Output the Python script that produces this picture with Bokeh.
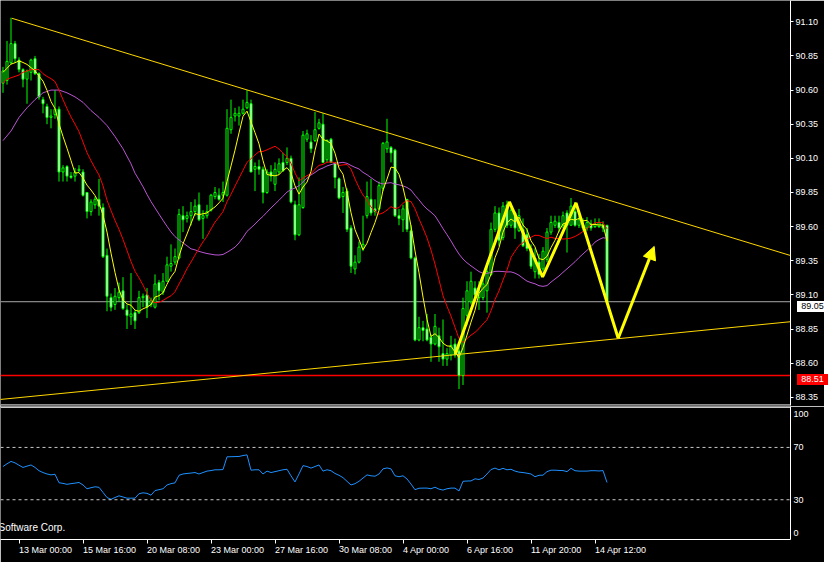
import pandas as pd
from bokeh.plotting import figure
from bokeh.layouts import column
from bokeh.models import (ColumnDataSource, FixedTicker, PrintfTickFormatter, Span, Label,
                          Arrow, NormalHead, Range1d, Div)
from bokeh.embed import file_html
from bokeh.resources import INLINE

# ---------------- data (H4 bars) ----------------
opens = [
    90.65, 90.67, 90.80, 90.94, 90.82, 90.75, 90.68, 90.73, 90.83, 90.72,
    90.53, 90.48, 90.40, 90.42, 90.46, 90.00, 90.04, 89.97, 89.97, 90.01,
    90.00, 89.85, 89.71, 89.76, 89.80, 89.74, 89.39, 89.08, 89.03, 89.08,
    89.13, 88.99, 88.94, 88.97, 88.97, 89.08, 89.10, 89.03, 89.01, 89.19,
    89.12, 89.20, 89.31, 89.34, 89.37, 89.68, 89.66, 89.68, 89.71, 89.76,
    89.66, 89.68, 89.72, 89.82, 89.83, 89.83, 89.83, 90.31, 90.41, 90.41,
    90.43, 90.47, 90.50, 90.02, 90.04, 90.02, 89.85, 90.00, 89.91, 90.00,
    90.07, 90.07, 90.10, 89.76, 89.54, 89.74, 90.24, 90.22, 90.23, 90.32,
    90.35, 90.09, 90.24, 90.07, 89.95, 89.82, 89.86, 89.59, 89.29, 89.34,
    89.44, 89.68, 89.80, 89.73, 89.73, 89.88, 90.17, 90.18, 90.16, 89.68,
    89.65, 89.80, 89.57, 89.37, 88.77, 88.86, 88.85, 88.79, 88.74, 88.80,
    88.67, 88.63, 88.66, 88.74, 88.69, 88.51, 88.95, 89.05, 89.15, 89.08,
    89.08, 89.13, 89.25, 89.58, 89.70, 89.52, 89.76, 89.61, 89.70, 89.57,
    89.58, 89.54, 89.44, 89.27, 89.34, 89.29, 89.36, 89.56, 89.61, 89.63,
    89.61, 89.70, 89.61, 89.71, 89.61, 89.61, 89.59, 89.62, 89.60, 89.60,
    89.61, 89.61]
highs = [
    90.77, 90.96, 91.13, 90.96, 90.84, 90.76, 90.75, 90.83, 90.85, 90.73,
    90.55, 90.50, 90.46, 90.60, 90.48, 90.05, 90.05, 90.00, 90.03, 90.05,
    90.02, 89.85, 89.80, 89.82, 89.95, 89.77, 89.44, 89.11, 89.15, 89.19,
    89.23, 89.03, 89.26, 88.99, 89.13, 89.11, 89.15, 89.08, 89.25, 89.21,
    89.26, 89.38, 89.47, 89.44, 89.73, 89.75, 89.71, 89.78, 89.80, 89.85,
    89.72, 89.76, 89.84, 89.89, 89.88, 89.93, 90.46, 90.53, 90.47, 90.48,
    90.53, 90.60, 90.53, 90.07, 90.09, 90.04, 90.02, 90.05, 90.07, 90.10,
    90.14, 90.18, 90.12, 89.79, 89.96, 90.30, 90.31, 90.27, 90.44, 90.39,
    90.43, 90.24, 90.25, 90.07, 89.96, 89.89, 89.88, 89.61, 89.39, 89.49,
    89.68, 89.93, 89.95, 89.80, 89.93, 90.22, 90.39, 90.19, 90.17, 89.73,
    89.76, 89.80, 89.61, 89.38, 88.94, 88.91, 88.96, 88.81, 88.96, 88.86,
    88.92, 88.71, 88.80, 88.78, 88.73, 89.08, 89.20, 89.27, 89.20, 89.20,
    89.24, 89.31, 89.63, 89.75, 89.74, 89.78, 89.79, 89.77, 89.71, 89.73,
    89.66, 89.59, 89.47, 89.44, 89.40, 89.45, 89.59, 89.68, 89.68, 89.68,
    89.71, 89.72, 89.81, 89.78, 89.68, 89.66, 89.67, 89.65, 89.66, 89.66,
    89.64, 89.61]
lows = [
    90.58, 90.64, 90.79, 90.80, 90.73, 90.62, 90.50, 90.67, 90.71, 90.53,
    90.43, 90.35, 90.32, 90.39, 89.93, 89.93, 89.93, 89.95, 89.93, 90.00,
    89.82, 89.66, 89.68, 89.73, 89.68, 89.37, 88.98, 88.98, 88.99, 89.05,
    88.99, 88.85, 88.88, 88.85, 88.96, 89.01, 88.93, 89.01, 89.00, 89.06,
    89.10, 89.20, 89.27, 89.32, 89.36, 89.56, 89.63, 89.61, 89.68, 89.64,
    89.51, 89.66, 89.71, 89.80, 89.79, 89.78, 89.82, 90.28, 90.37, 90.34,
    90.42, 90.46, 90.00, 89.86, 89.98, 89.77, 89.84, 89.93, 89.86, 89.98,
    90.00, 90.05, 89.77, 89.50, 89.53, 89.73, 90.22, 90.14, 90.22, 90.31,
    90.07, 90.07, 90.07, 89.88, 89.80, 89.70, 89.56, 89.26, 89.25, 89.33,
    89.42, 89.66, 89.68, 89.68, 89.72, 89.86, 90.14, 90.07, 89.67, 89.61,
    89.56, 89.56, 89.36, 88.76, 88.76, 88.76, 88.76, 88.61, 88.73, 88.61,
    88.58, 88.58, 88.62, 88.64, 88.41, 88.44, 88.88, 89.03, 89.06, 88.99,
    89.06, 88.97, 89.24, 89.56, 89.46, 89.50, 89.59, 89.59, 89.51, 89.56,
    89.45, 89.42, 89.29, 89.22, 89.22, 89.27, 89.34, 89.54, 89.59, 89.56,
    89.59, 89.41, 89.61, 89.60, 89.59, 89.57, 89.57, 89.57, 89.59, 89.59,
    89.56, 89.05]
closes = [
    90.74, 90.81, 90.94, 90.83, 90.75, 90.68, 90.74, 90.82, 90.72, 90.55,
    90.50, 90.40, 90.41, 90.46, 90.00, 90.03, 89.97, 89.96, 90.00, 90.02,
    89.83, 89.71, 89.78, 89.80, 89.75, 89.38, 89.09, 89.01, 89.09, 89.12,
    89.00, 88.95, 88.96, 88.91, 89.08, 89.09, 89.01, 89.06, 89.18, 89.13,
    89.20, 89.32, 89.33, 89.38, 89.69, 89.65, 89.68, 89.71, 89.75, 89.65,
    89.68, 89.71, 89.83, 89.85, 89.80, 89.85, 90.32, 90.40, 90.43, 90.43,
    90.46, 90.51, 90.00, 90.04, 90.02, 89.85, 90.00, 89.97, 90.02, 90.06,
    90.01, 90.10, 89.78, 89.54, 89.76, 90.27, 90.28, 90.17, 90.31, 90.36,
    90.07, 90.23, 90.07, 89.96, 89.81, 89.85, 89.58, 89.31, 89.34, 89.45,
    89.47, 89.82, 89.70, 89.71, 89.90, 90.21, 90.22, 90.14, 89.68, 89.66,
    89.73, 89.58, 89.37, 88.77, 88.86, 88.84, 88.77, 88.74, 88.87, 88.72,
    88.63, 88.67, 88.73, 88.66, 88.51, 89.00, 89.13, 89.20, 89.10, 89.13,
    89.18, 89.27, 89.58, 89.70, 89.50, 89.75, 89.61, 89.72, 89.59, 89.68,
    89.46, 89.44, 89.31, 89.37, 89.25, 89.42, 89.56, 89.63, 89.64, 89.59,
    89.68, 89.61, 89.75, 89.61, 89.65, 89.59, 89.63, 89.59, 89.62, 89.63,
    89.59, 89.05]

# RSI(14)
rsi14 = [
    55.4, 57.5, 59.3, 58.2, 56.4, 54.7, 55.7, 56.6, 54.7, 52.2,
    50.8, 49.7, 49.0, 49.5, 43.0, 42.5, 41.8, 42.3, 42.7, 43.2,
    41.3, 38.4, 39.2, 39.9, 39.5, 35.6, 31.7, 30.3, 31.7, 33.0,
    32.1, 31.2, 31.2, 31.2, 34.6, 35.3, 34.9, 33.5, 37.0, 37.7,
    38.4, 41.3, 42.3, 42.9, 48.7, 49.7, 50.1, 50.4, 50.8, 49.7,
    50.8, 51.9, 52.3, 52.9, 52.9, 53.1, 62.8, 62.9, 63.0, 63.1,
    63.8, 64.3, 52.6, 52.9, 52.9, 49.7, 51.9, 50.8, 51.5, 52.2,
    52.9, 53.3, 48.3, 43.6, 49.7, 56.1, 55.4, 54.2, 55.4, 56.6,
    51.9, 52.9, 52.2, 50.1, 48.7, 46.9, 44.1, 41.3, 42.3, 44.1,
    46.6, 49.0, 48.3, 48.0, 49.7, 53.6, 54.3, 53.6, 48.3, 47.6,
    48.3, 45.9, 42.0, 37.7, 38.8, 38.9, 38.9, 38.4, 39.6, 38.1,
    37.4, 38.4, 38.9, 38.9, 36.7, 44.1, 44.3, 44.4, 46.0, 45.5,
    46.6, 49.7, 53.1, 54.2, 52.9, 54.0, 52.9, 53.3, 51.9, 51.1,
    50.8, 50.3, 49.7, 47.6, 48.7, 48.8, 51.5, 52.6, 52.6, 52.4,
    52.3, 51.5, 54.0, 52.2, 51.9, 51.9, 51.9, 52.2, 52.2, 52.0,
    52.3, 43.2]

# moving-average values at the left edge (their history lies before the chart)
fast_head = [90.73, 90.76, 90.79, 90.80]                       # bars 0-3
mid_head = [90.65, 90.68, 90.69, 90.70, 90.71, 90.73,
            90.74, 90.75, 90.75, 90.75, 90.72, 90.70]           # bars 0-11
slow_head_bars = [0, 2, 4, 6, 8, 10, 12, 14, 16, 18, 20, 22, 24, 26, 28, 30, 32]
slow_head = [90.23, 90.30, 90.40, 90.47, 90.53, 90.58, 90.60, 90.60, 90.58,
             90.55, 90.51, 90.45, 90.40, 90.34, 90.26, 90.17, 90.06]

# drawn objects (bar index, price)
upper_trend_x = [2.2, 200.5]
upper_trend_y = [91.126, 89.356]
lower_trend_x = [-0.75, 200.5]
lower_trend_y = [88.334, 88.914]
zigzag_x = [113.1, 126.6, 134.9, 143.25, 153.8]
zigzag_y = [88.667, 89.781, 89.232, 89.774, 88.783]
arrow_x = [153.8, 162.8]
arrow_y = [88.783, 89.455]
bid_price = 89.05
support_level = 88.51

price_ticks = [88.35, 88.60, 88.85, 89.10, 89.35, 89.60, 89.85, 90.10, 90.35, 90.60, 90.85, 91.10]
rsi_levels = [30, 70]
rsi_tick_pos = [4.6, 30, 70, 95.6]
rsi_tick_labels = ["0", "30", "70", "100"]
time_tick_bars = [4, 20, 36, 52, 68, 84, 100, 116, 132, 148]
time_tick_labels = ["13 Mar 00:00", "15 Mar 16:00", "20 Mar 08:00", "23 Mar 00:00",
                    "27 Mar 16:00", "30 Mar 08:00", "4 Apr 00:00", "6 Apr 16:00",
                    "11 Apr 20:00", "14 Apr 12:00"]

# ---------------- derived ----------------
n = min(len(opens), len(highs), len(lows), len(closes))
bars = list(range(n))
cs = pd.Series(closes[:n])
fast = cs.rolling(5).mean()
mid = cs.rolling(13).mean()
slow = cs.rolling(34).mean()
fast_x = list(range(len(fast_head))) + list(range(4, n))
fast_y = fast_head + fast[4:].tolist()
mid_x = list(range(len(mid_head))) + list(range(12, n))
mid_y = mid_head + mid[12:].tolist()
slow_x = slow_head_bars + list(range(33, n))
slow_y = slow_head + slow[33:].tolist()

FONT = "Liberation Sans"
FS = "9px"
LIME = "#00FF00"
FRAME_W = 790
MAIN_H = 405
RSI_H = 133
X0, X1 = -0.625, 196.875
xr = Range1d(X0, X1)
Y_MAIN = (88.29, 91.256)
Y_RSI = (-0.4, 101.3)


def style_axis(ax):
    ax.axis_line_color = "white"
    ax.major_tick_line_color = "white"
    ax.minor_tick_line_color = None
    ax.major_tick_in = 0
    ax.major_tick_out = 3
    ax.major_label_text_color = "white"
    ax.major_label_text_font = FONT
    ax.major_label_text_font_size = FS
    ax.major_label_standoff = 2


# ---------------- price pane ----------------
p = figure(frame_width=FRAME_W, frame_height=MAIN_H, x_range=xr, y_range=Range1d(*Y_MAIN),
           output_backend="svg", toolbar_location=None, tools="",
           background_fill_color="black", border_fill_color="black", outline_line_color=None,
           min_border_left=0, min_border_top=0, min_border_bottom=1, min_border_right=34,
           x_axis_location=None, y_axis_location="right")
p.grid.visible = False
ya = p.yaxis[0]
style_axis(ya)
ya.ticker = FixedTicker(ticks=price_ticks)
ya.formatter = PrintfTickFormatter(format="%.2f")

p.add_layout(Span(location=bid_price, dimension="width", line_color="#a8a8a8", line_width=1, level="underlay"))
p.add_layout(Span(location=support_level, dimension="width", line_color="#ff0000", line_width=1.5, level="underlay"))
p.add_layout(Span(location=Y_MAIN[0] + 0.004, dimension="width", line_color="white", line_width=1))

src = ColumnDataSource(dict(
    bar=bars, high=highs[:n], low=lows[:n],
    top=[max(o, c) for o, c in zip(opens, closes)][:n],
    bottom=[min(o, c) for o, c in zip(opens, closes)][:n],
    fill=["black" if c >= o else "white" for o, c in zip(opens, closes)][:n]))
p.segment(x0="bar", y0="low", x1="bar", y1="high", source=src, line_color=LIME, line_width=1)
p.vbar(x="bar", width=0.5, top="top", bottom="bottom", source=src,
       fill_color="fill", line_color=LIME, line_width=1)

p.line(slow_x, slow_y, line_color="#BA55D3", line_width=1)
p.line(mid_x, mid_y, line_color="#FF0000", line_width=1)
p.line(fast_x, fast_y, line_color="#FFFF00", line_width=1)

p.line(upper_trend_x, upper_trend_y, line_color="#FFD700", line_width=1)
p.line(lower_trend_x, lower_trend_y, line_color="#FFD700", line_width=1)
p.line(zigzag_x, zigzag_y, line_color="#FFFF00", line_width=3)
p.add_layout(Arrow(end=NormalHead(size=13, fill_color="#FFFF00", line_color="#FFFF00"),
                   x_start=arrow_x[0], y_start=arrow_y[0], x_end=arrow_x[1], y_end=arrow_y[1],
                   line_color="#FFFF00", line_width=3))

# ---------------- RSI pane ----------------
r = figure(frame_width=FRAME_W, frame_height=RSI_H, x_range=xr, y_range=Range1d(*Y_RSI),
           output_backend="svg", toolbar_location=None, tools="",
           background_fill_color="black", border_fill_color="black", outline_line_color=None,
           min_border_left=0, min_border_top=0, min_border_bottom=18, min_border_right=34,
           x_axis_location="below", y_axis_location="right")
r.grid.visible = False
ry = r.yaxis[0]
style_axis(ry)
ry.major_tick_out = 0
ry.major_label_standoff = 3
ry.ticker = FixedTicker(ticks=rsi_tick_pos)
ry.major_label_overrides = dict(zip(rsi_tick_pos, rsi_tick_labels))
rx = r.xaxis[0]
style_axis(rx)
rx.major_tick_out = 4
rx.major_label_standoff = 6
rx.ticker = FixedTicker(ticks=time_tick_bars)
rx.major_label_overrides = dict(zip(time_tick_bars, time_tick_labels))
rx.major_label_orientation = -0.0001   # near-horizontal: labels start at their tick

r.add_layout(Span(location=Y_RSI[1] - 0.6, dimension="width", line_color="white", line_width=1))
for lvl in rsi_levels:
    r.add_layout(Span(location=lvl, dimension="width", line_color="#c8c8c8",
                      line_dash="3 3", line_width=1))
r.line(bars, rsi14[:n], line_color="#1E90FF", line_width=1)
r.add_layout(Label(x=X0, y=8.8, x_offset=-2, text="Software Corp.", text_color="white",
                   text_font=FONT, text_font_size="10px", text_align="left", text_baseline="middle"))


# ---------------- price boxes on the price scale ----------------
def price_box(text, price, bg, fg):
    y_px = (Y_MAIN[1] - price) / (Y_MAIN[1] - Y_MAIN[0]) * MAIN_H
    return Div(text=text, width=31, height=11,
               styles={"position": "absolute", "left": "%dpx" % (FRAME_W + 2),
                       "top": "%.0fpx" % (y_px - 5.5), "background-color": bg, "color": fg,
                       "font-family": FONT, "font-size": "9px", "line-height": "11px",
                       "text-align": "center", "z-index": "10", "overflow": "hidden"})


box_bid = price_box("%.2f" % bid_price, bid_price, "white", "black")
box_sup = price_box("%.2f" % support_level, support_level, "#ff0000", "white")

layout = column(p, r, box_bid, box_sup, spacing=0)
open("out.html", "w").write(file_html(layout, INLINE))
